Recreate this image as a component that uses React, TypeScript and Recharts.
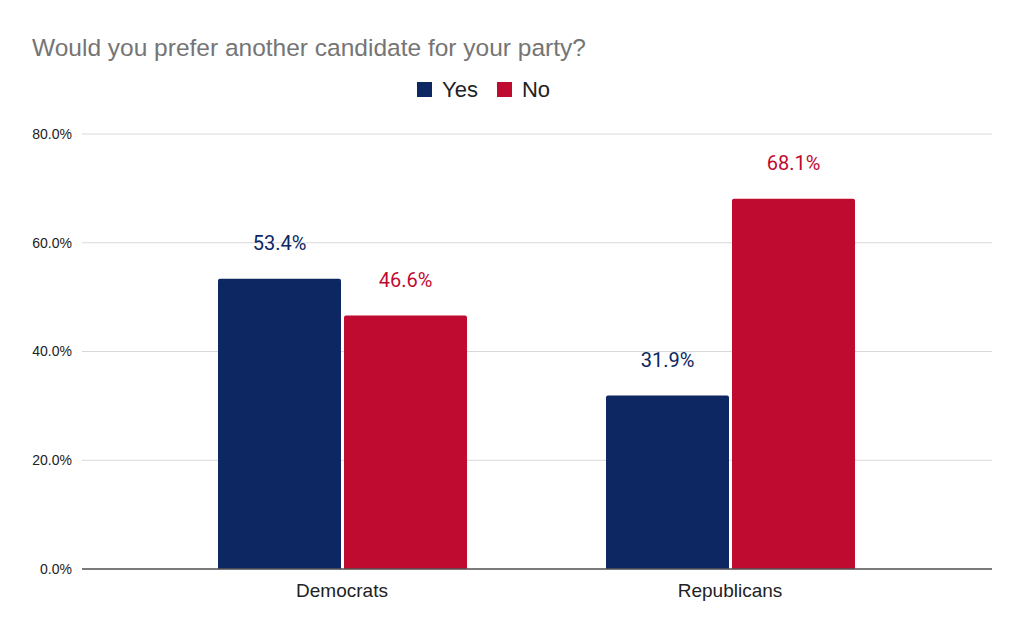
import { BarChart, Bar, XAxis, YAxis, CartesianGrid, LabelList } from "recharts";

const parties = ["Democrats", "Republicans"];
const yesValues = [53.4, 31.9];
const noValues = [46.6, 68.1];
const yTicks = [0, 20, 40, 60, 80];

const YES_COLOR = "#0c2762";
const NO_COLOR = "#bf0b30";
const ARIAL = "'Liberation Sans', Arial, sans-serif";

const data = parties.map((party, i) => ({ party, yes: yesValues[i], no: noValues[i] }));

const pct = (v: number) => v.toFixed(1) + "%";

function LegendBox() {
  const item = (color: string, label: string, gap: number) => (
    <span style={{ display: "inline-flex", alignItems: "center", marginRight: gap }}>
      <span style={{ width: 15, height: 15, background: color, display: "inline-block", marginRight: 10 }} />
      <span>{label}</span>
    </span>
  );
  return (
    <div style={{ fontFamily: ARIAL, fontSize: 22, lineHeight: "22px", color: "#222", display: "flex", alignItems: "center", height: 22 }}>
      {item(YES_COLOR, "Yes", 19)}
      {item(NO_COLOR, "No", 0)}
    </div>
  );
}

export default function App() {
  return (
    <div style={{ position: "absolute", left: 0, top: 0, width: 1024, height: 634, background: "#fff" }}>
      <div
        style={{
          position: "absolute",
          left: 32,
          top: 36,
          fontFamily: ARIAL,
          fontSize: 24.5,
          lineHeight: "24px",
          color: "#757575",
          whiteSpace: "nowrap",
        }}
      >
        Would you prefer another candidate for your party?
      </div>
      <div style={{ position: "absolute", left: 417, top: 78.5 }}>
        <LegendBox />
      </div>
      <BarChart
        width={1024}
        height={634}
        data={data}
        margin={{ top: 134, right: 32, bottom: 35, left: 0 }}
        barGap={3}
        barSize={123}
      >
        <CartesianGrid horizontal vertical={false} stroke="#d9d9d9" />
        <XAxis
          dataKey="party"
          height={30}
          padding={{ left: 66, right: 68 }}
          tickLine={false}
          axisLine={{ stroke: "#555", strokeWidth: 1.5 }}
          tick={{ fill: "#222", fontSize: 19, fontFamily: ARIAL }}
          tickMargin={9}
        />
        <YAxis
          width={82}
          domain={[0, 80]}
          ticks={yTicks}
          tickFormatter={pct}
          axisLine={false}
          tickLine={false}
          tickSize={0}
          tickMargin={10}
          tick={{ fill: "#222", fontSize: 14, fontFamily: ARIAL }}
        />
        <Bar dataKey="yes" fill={YES_COLOR} radius={[2, 2, 0, 0]} isAnimationActive={false}>
          <LabelList
            dataKey="yes"
            position="top"
            offset={29}
            formatter={(v: number) => pct(v)}
            style={{ fill: YES_COLOR, fontSize: 20, fontFamily: "Roboto, sans-serif" }}
          />
        </Bar>
        <Bar dataKey="no" fill={NO_COLOR} radius={[2, 2, 0, 0]} isAnimationActive={false}>
          <LabelList
            dataKey="no"
            position="top"
            offset={29}
            formatter={(v: number) => pct(v)}
            style={{ fill: NO_COLOR, fontSize: 20, fontFamily: "Roboto, sans-serif" }}
          />
        </Bar>
      </BarChart>
    </div>
  );
}
